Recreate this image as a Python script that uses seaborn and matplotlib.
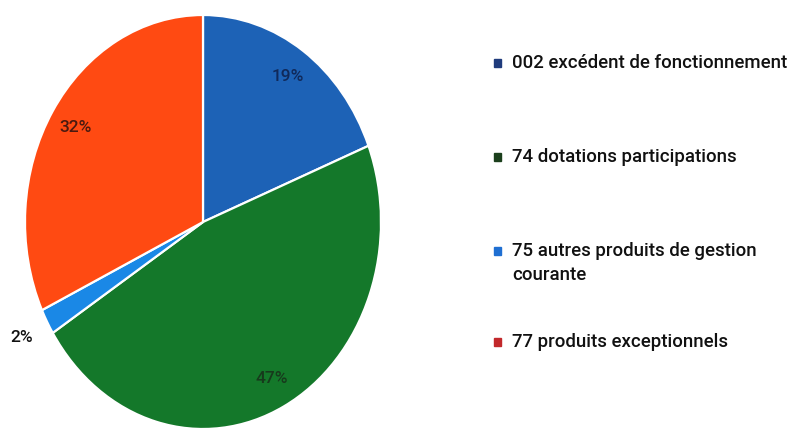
import numpy as np
import matplotlib
matplotlib.use("Agg")
import matplotlib.pyplot as plt
from matplotlib.patches import Rectangle
import seaborn as sns

categories = ["002 excédent de fonctionnement", "74 dotations participations",
              "75 autres produits de gestion\ncourante", "77 produits exceptionnels"]
values = [19, 47, 2, 32]
slice_colors = ["#1d62b6", "#14782a", "#1a88e6", "#ff4a12"]
legend_colors = ["#1f3b7c", "#1b3f1c", "#1f6fd2", "#c2282b"]
label_colors = ["#10295a", "#173a1c", "#111111", "#4a1a10"]

sns.set_theme(style="white")
plt.rcParams['font.family'] = ['Roboto', 'DejaVu Sans']

W, H = 789, 430
fig = plt.figure(figsize=(W / 100, H / 100), dpi=100)
fig.patch.set_facecolor("white")

cx, cy, rx, ry = 203, 222, 178, 207
ax = fig.add_axes([(cx - rx) / W, (H - cy - ry) / H, 2 * rx / W, 2 * ry / H])
palette = sns.color_palette(slice_colors)
wedges, texts, autotexts = ax.pie(
    values, colors=palette, startangle=90, counterclock=False,
    autopct=lambda p: f"{p:.0f}%", pctdistance=0.85,
    wedgeprops=dict(edgecolor="white", linewidth=1.6),
    textprops=dict(fontsize=12.5, fontweight="medium"))
ax.set_aspect("auto")
ax.set_xlim(-1, 1)
ax.set_ylim(-1, 1)
ax.axis("off")

for w, t, c, v in zip(wedges, autotexts, label_colors, values):
    t.set_color(c)
    if v < 5:
        ang = np.deg2rad((w.theta1 + w.theta2) / 2)
        t.set_position((1.16 * np.cos(ang), 1.16 * np.sin(ang)))
        t.set_color("#111111")

# legend, drawn manually to follow the reference layout
row_y = [63, 157, 251, 342]
line_gap = 24
for lab, col, y in zip(categories, legend_colors, row_y):
    fig.patches.append(Rectangle((494 / W, (H - y - 4) / H), 7 / W, 8 / H,
                                 transform=fig.transFigure, color=col, figure=fig))
    for i, line in enumerate(lab.split("\n")):
        fig.text(512 / W, (H - y - i * line_gap) / H, line, fontsize=13.4,
                 color="#111111", va="center", ha="left", fontweight="medium")

fig.savefig("out.png", dpi=100, facecolor="white")
